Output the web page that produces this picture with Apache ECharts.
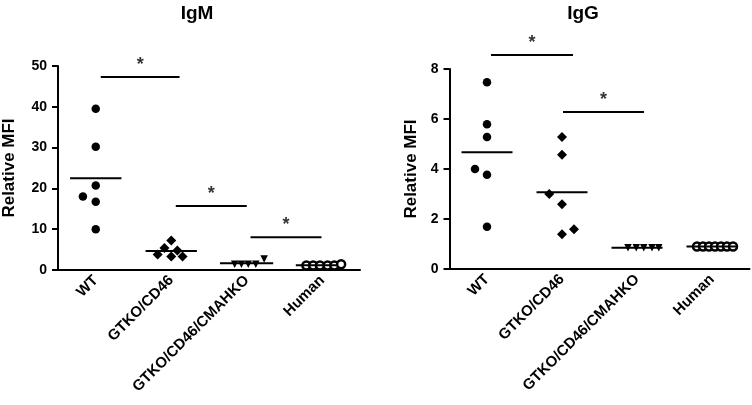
<!DOCTYPE html>
<html>
<head>
<meta charset="utf-8">
<script src="https://cdn.jsdelivr.net/npm/echarts@6/dist/echarts.min.js"></script>
<style>html,body{margin:0;padding:0;background:#fff}#c{width:752px;height:405px}</style>
</head>
<body>
<div id="c"></div>
<script>
// ---------- DATA ----------
var categories = ['WT', 'GTKO/CD46', 'GTKO/CD46/CMAHKO', 'Human'];
var titles = ['IgM', 'IgG'];
var yAxisName = 'Relative MFI';
var igmTicks = [0, 10, 20, 30, 40, 50];
var iggTicks = [0, 2, 4, 6, 8];

var igmWT = [39.5, 30.2, 20.7, 18.0, 16.7, 10.0];
var igmCD46 = [7.2, 5.4, 4.8, 3.8, 3.3, 3.3];
var igmCMAHKO = [1.4, 1.4, 1.4, 1.4, 2.7];
var igmHuman = [1.1, 1.1, 1.1, 1.1, 1.1, 1.4];

var iggWT = [7.47, 5.79, 5.28, 4.0, 3.77, 1.69];
var iggCD46 = [5.28, 4.57, 3.0, 2.59, 1.39, 1.59];
var iggCMAHKO = [0.85, 0.85, 0.85, 0.85, 0.85];
var iggHuman = [0.9, 0.9, 0.9, 0.9, 0.9, 0.9, 0.9];

// significance comparisons: [from group, to group, bar height]
var igmSig = [[0, 1, 47.3], [1, 2, 15.7], [2, 3, 8.0]];
var iggSig = [[0, 1, 8.56], [1, 2, 6.28]];

// ---------- LAYOUT / STYLE (not data) ----------
var igmJitter = [[0, 0, 0, -0.17, 0, 0], [0, -0.09, 0.08, -0.18, 0, 0.15], [-0.16, -0.07, 0.02, 0.12, 0.23], [-0.21, -0.12, -0.03, 0.07, 0.16, 0.25]];
var iggJitter = [[0, 0, 0, -0.16, 0, 0], [0, 0, -0.17, 0, 0, 0.16], [-0.12, -0.01, 0.09, 0.2, 0.29], [-0.2, -0.12, -0.04, 0.04, 0.12, 0.2, 0.28]];
var igmMeanSpan = [[-0.34, 0.34], [-0.34, 0.34], [-0.355, 0.35], [-0.35, 0.2]];
var iggMeanSpan = [[-0.34, 0.34], [-0.34, 0.34], [-0.34, 0.34], [-0.34, 0.34]];
var igmSigSpan = [[0.066, 1.11], [1.06, 2.0], [2.05, 2.99]];
var iggSigSpan = [[0.053, 1.147], [1.013, 2.093]];

var FONT = '"Liberation Sans", Arial, sans-serif';
var symbols = [
  {symbol: 'circle', size: 8.5, fill: '#000', border: 0},
  {symbol: 'diamond', size: 10, fill: '#000', border: 0},
  {symbol: 'triangle', size: 7.5, fill: '#000', border: 0, rotate: 180},
  {symbol: 'circle', size: 8, fill: '#fff', border: 2.5}
];

function mean(a) { var s = 0; a.forEach(function (v) { s += v; }); return s / a.length; }

var chart = echarts.init(document.getElementById('c'), null, {renderer: 'canvas'});

var panels = [
  {groups: [igmWT, igmCD46, igmCMAHKO, igmHuman], jitter: igmJitter, meanSpan: igmMeanSpan, sig: igmSig, sigSpan: igmSigSpan, ticks: igmTicks},
  {groups: [iggWT, iggCD46, iggCMAHKO, iggHuman], jitter: iggJitter, meanSpan: iggMeanSpan, sig: iggSig, sigSpan: iggSigSpan, ticks: iggTicks}
];

var grids = [
  {left: 53.5, top: 66, width: 306.5, height: 204},
  {left: 449.5, top: 69, width: 300, height: 200}
];
var nameGaps = [40, 30];

var xAxes = [], yAxes = [], series = [], titleOpts = [];
panels.forEach(function (p, pi) {
  titleOpts.push({
    text: titles[pi], left: pi === 0 ? 192 : 578, top: -1, textAlign: 'center',
    textStyle: {fontFamily: FONT, fontSize: 19, fontWeight: 'bold', color: '#000'}
  });
  xAxes.push({
    type: 'category', gridIndex: pi, data: categories, boundaryGap: true,
    axisLine: {onZero: false, lineStyle: {color: '#000', width: 2}},
    axisTick: {alignWithLabel: true, length: 6, lineStyle: {color: '#000', width: 2}},
    axisLabel: {rotate: 45, margin: 8, interval: 0, fontFamily: FONT, fontSize: 15, fontWeight: 'bold', color: '#000'},
    splitLine: {show: false}
  });
  xAxes.push({
    type: 'value', gridIndex: pi, min: -0.5, max: 3.5, show: false
  });
  var t = p.ticks;
  yAxes.push({
    type: 'value', gridIndex: pi, min: t[0], max: t[t.length - 1], interval: t[1] - t[0],
    name: yAxisName, nameLocation: 'middle', nameGap: nameGaps[pi], nameRotate: 90,
    nameTextStyle: {fontFamily: FONT, fontSize: 17, fontWeight: 'bold', color: '#000'},
    axisLine: {show: true, onZero: false, lineStyle: {color: '#000', width: 2}},
    axisTick: {show: true, length: 6, lineStyle: {color: '#000', width: 2}},
    axisLabel: {margin: 11, fontFamily: FONT, fontSize: 14, fontWeight: 'bold', color: '#000'},
    splitLine: {show: false}
  });
  var xi = pi * 2 + 1;
  p.groups.forEach(function (vals, gi) {
    var s = symbols[gi];
    series.push({
      type: 'scatter', xAxisIndex: xi, yAxisIndex: pi, silent: true,
      symbol: s.symbol, symbolSize: s.size, symbolRotate: s.rotate || 0,
      itemStyle: {color: s.fill, borderColor: '#000', borderWidth: s.border, opacity: 1},
      data: vals.map(function (v, k) { return [gi + p.jitter[gi][k], v]; }),
      z: 3
    });
    var m = mean(vals);
    series.push({
      type: 'line', xAxisIndex: xi, yAxisIndex: pi, silent: true, symbol: 'none',
      lineStyle: {color: '#000', width: 2},
      data: [[gi + p.meanSpan[gi][0], m], [gi + p.meanSpan[gi][1], m]], z: 4
    });
  });
  p.sig.forEach(function (sg, si) {
    var y = sg[2];
    series.push({
      type: 'line', xAxisIndex: xi, yAxisIndex: pi, silent: true, symbol: 'none', clip: false,
      lineStyle: {color: '#000', width: 2},
      data: [[p.sigSpan[si][0], y], [p.sigSpan[si][1], y]]
    });
    series.push({
      type: 'scatter', xAxisIndex: xi, yAxisIndex: pi, silent: true, clip: false,
      symbol: 'circle', symbolSize: 0.1, itemStyle: {color: 'rgba(0,0,0,0)'},
      label: {show: true, position: 'top', distance: 3, formatter: '*',
        fontFamily: FONT, fontSize: 18, fontWeight: 'bold', color: '#000'},
      data: [[(p.sigSpan[si][0] + p.sigSpan[si][1]) / 2, y]]
    });
  });
});

chart.setOption({
  animation: false,
  backgroundColor: '#fff',
  title: titleOpts,
  grid: grids,
  xAxis: xAxes,
  yAxis: yAxes,
  series: series
});
</script>
</body>
</html>
